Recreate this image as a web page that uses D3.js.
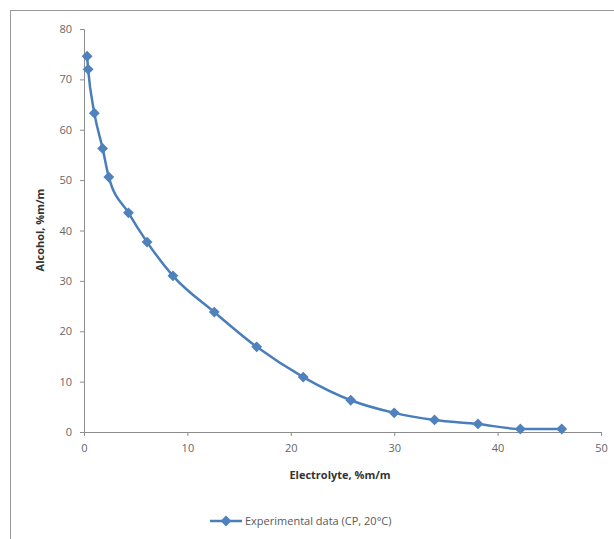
<!DOCTYPE html>
<html>
<head>
<meta charset="utf-8">
<script src="https://cdn.jsdelivr.net/npm/d3@7"></script>
<style>
  body { margin: 0; background: #fff; }
  svg text { font-family: "Open Sans", "Noto Sans", sans-serif; }
</style>
</head>
<body>
<svg id="chart" width="614" height="539"></svg>
<script>
// Experimental data (CP, 20°C)
const electrolyte = [0.3, 0.4, 1.0, 1.8, 2.4, 4.3, 6.1, 8.6, 12.6, 16.7, 21.2, 25.8, 30.0, 33.9, 38.1, 42.2, 46.2];
const alcohol = [74.6, 72.0, 63.3, 56.3, 50.6, 43.5, 37.7, 31.0, 23.8, 16.9, 10.9, 6.3, 3.8, 2.4, 1.6, 0.6, 0.6];
const xTicks = [0, 10, 20, 30, 40, 50];
const yTicks = [0, 10, 20, 30, 40, 50, 60, 70, 80];
const seriesName = "Experimental data (CP, 20°C)";

const svg = d3.select("#chart");

// chart frame
svg.append("rect")
    .attr("x", 10.5).attr("y", 10.5)
    .attr("width", 620).attr("height", 560)
    .attr("fill", "#fff")
    .attr("stroke", "#9a9a9a");

const x = d3.scaleLinear().domain([0, 50]).range([84, 601]);
const y = d3.scaleLinear().domain([0, 80]).range([432, 29]);

const axisColor = "#8c8c8c";

// x axis
const gx = svg.append("g")
    .attr("transform", `translate(0,${y(0)})`)
    .call(d3.axisBottom(x).tickValues(xTicks).tickSize(4).tickPadding(8));
gx.select(".domain").attr("stroke", axisColor);
gx.selectAll(".tick line").attr("stroke", axisColor);
gx.selectAll("text").attr("fill", "#666").style("font-size", "11px");

// y axis
const gy = svg.append("g")
    .attr("transform", `translate(${x(0)},0)`)
    .call(d3.axisLeft(y).tickValues(yTicks).tickSize(4).tickPadding(8));
gy.select(".domain").attr("stroke", axisColor);
gy.selectAll(".tick line").attr("stroke", axisColor);
gy.selectAll("text").attr("fill", "#666").style("font-size", "11px");

// axis titles
svg.append("text")
    .attr("x", 340).attr("y", 479)
    .attr("text-anchor", "middle")
    .style("font-size", "11px").style("font-weight", "bold")
    .attr("fill", "#333")
    .text("Electrolyte, %m/m");

svg.append("text")
    .attr("transform", "translate(44,230) rotate(-90)")
    .attr("text-anchor", "middle")
    .style("font-size", "11px").style("font-weight", "bold")
    .attr("fill", "#333")
    .text("Alcohol, %m/m");

// series
const pts = electrolyte.map((e, i) => [e, alcohol[i]]);
const line = d3.line()
    .x(d => x(d[0]))
    .y(d => y(d[1]))
    .curve(d3.curveMonotoneX);

svg.append("path")
    .datum(pts)
    .attr("fill", "none")
    .attr("stroke", "#4a7ebb")
    .attr("stroke-width", 2.5)
    .attr("d", line);

const diamond = d3.symbol().type(d3.symbolDiamond2).size(75);
svg.selectAll(".pt")
    .data(pts)
    .join("path")
    .attr("class", "pt")
    .attr("transform", d => `translate(${x(d[0])},${y(d[1])})`)
    .attr("d", diamond)
    .attr("fill", "#4f81bd");

// legend
const lg = svg.append("g").attr("transform", "translate(210,521)");
lg.append("line")
    .attr("x1", 0).attr("x2", 32)
    .attr("stroke", "#4a7ebb").attr("stroke-width", 2.5);
lg.append("path")
    .attr("transform", "translate(16,0)")
    .attr("d", diamond)
    .attr("fill", "#4f81bd");
lg.append("text")
    .attr("x", 35).attr("y", 4)
    .style("font-size", "11px")
    .attr("fill", "#595959")
    .text(seriesName);
</script>
</body>
</html>
